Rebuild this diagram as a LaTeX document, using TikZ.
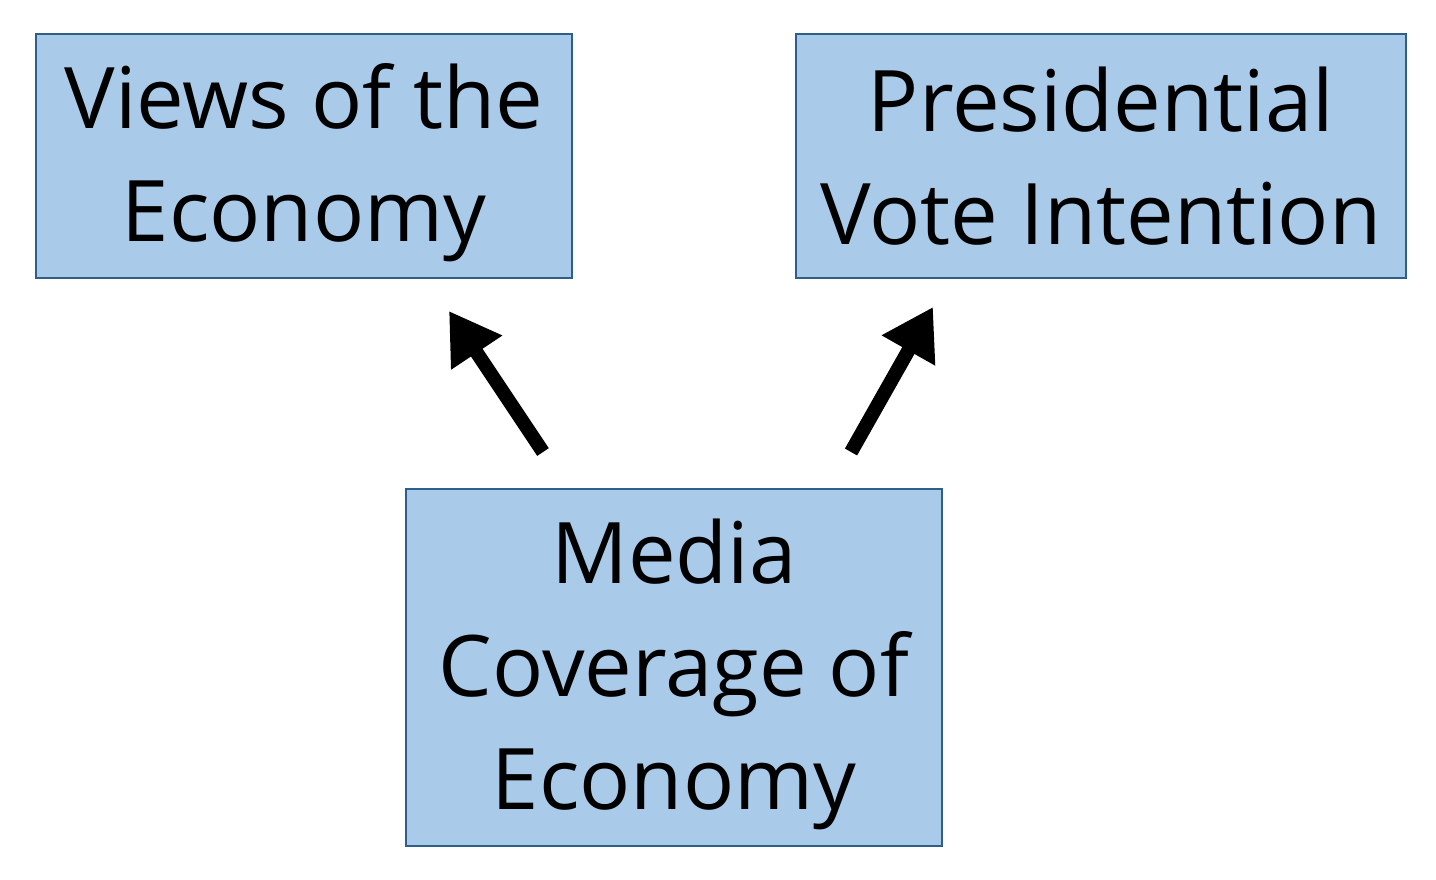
\documentclass[tikz,border=0pt]{standalone}
\usepackage{fontspec}
\setmainfont{Open Sans}
\usetikzlibrary{arrows.meta}
\definecolor{boxfill}{HTML}{A9CBE9}
\definecolor{boxline}{HTML}{2E5F8A}
\begin{document}
\begin{tikzpicture}[x=1pt,y=-1pt,
  box/.style={draw=boxline,line width=1.3pt,fill=boxfill,align=center,inner sep=0pt,
    font=\fontsize{85}{113}\selectfont},
  bigarrow/.style={line width=14pt,-{Triangle[width=58pt,length=50pt]}}]
\useasboundingbox (0,0) rectangle (1436,880);
\draw[box] (36,34) rectangle (572,278);
\node[box,draw=none,fill=none] (views) at (304,163) {Views of the\\Economy};
\draw[box] (796,34) rectangle (1406,278);
\node[box,draw=none,fill=none] (pres) at (1101,156) {Presidential\\Vote Intention};
\draw[box] (406,489) rectangle (942,846);
\node[box,draw=none,fill=none] (media) at (674,674) {Media\\Coverage of\\Economy};
\coordinate (a1s) at (543,452);
\coordinate (a1e) at (449,311);
\coordinate (a2s) at (851,452);
\coordinate (a2e) at (933,307);
\draw[bigarrow] (a1s) -- (a1e);
\draw[bigarrow] (a2s) -- (a2e);
\end{tikzpicture}
\end{document}
